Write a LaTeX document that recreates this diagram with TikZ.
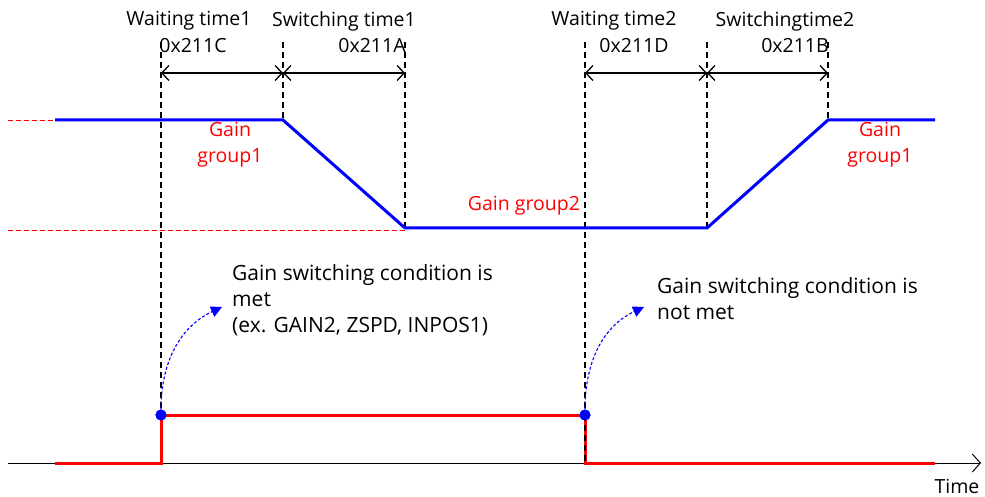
\documentclass[tikz,border=0pt]{standalone}
\usepackage{fontspec}
\setmainfont{Open Sans}
\usetikzlibrary{arrows.meta,positioning}
\definecolor{gainblue}{RGB}{0,0,255}
\definecolor{gainred}{RGB}{255,0,0}

\begin{document}
\begin{tikzpicture}[x=1pt, y=-1pt,
  guide/.style={black, line width=1.6pt, dash pattern=on 6pt off 4pt},
  span/.style={{Straight Barb[length=7pt,width=15pt]}-{Straight Barb[length=7pt,width=15pt]}, line width=1.3pt},
  gain/.style={gainblue, line width=3pt},
  signal/.style={gainred, line width=3pt},
  level/.style={gainred, line width=0.9pt, dash pattern=on 5pt off 3pt},
  lbl/.style={font=\fontsize{19.5}{26}\selectfont, align=center, inner sep=0pt},
  redlbl/.style={lbl, text=gainred},
  note/.style={font=\fontsize{21}{26}\selectfont, align=left, inner sep=0pt, anchor=north west},
  hook/.style={gainblue, line width=1.1pt, dash pattern=on 3pt off 2pt, -{Triangle[length=11pt,width=11pt]}},
  dot/.style={circle, fill=gainblue, inner sep=0pt, minimum size=11pt},
]
  \useasboundingbox (0,0) rectangle (985,497);

  % time marks
  \coordinate (w1) at (161,42);
  \coordinate (s1) at (283,42);
  \coordinate (e1) at (405,42);
  \coordinate (w2) at (585,42);
  \coordinate (s2) at (707,42);
  \coordinate (e2) at (828,42);

  % gain profile
  \coordinate (gstart) at (55,120);
  \coordinate (ghi1) at (283,120);
  \coordinate (glo1) at (405,228);
  \coordinate (glo2) at (707,228);
  \coordinate (ghi2) at (828,120);
  \coordinate (gend) at (935,120);
  \coordinate (hiref) at (8,120);
  \coordinate (loref) at (8,230);
  \coordinate (loend) at (405,230);

  % switching signal
  \coordinate (sstart) at (55,463);
  \coordinate (up) at (161,463);
  \coordinate (down) at (585,463);
  \coordinate (send) at (935,463);
  \coordinate (axstart) at (8,463);
  \coordinate (axend) at (981,463);
  \node[dot] (on) at (161,415) {};
  \node[dot] (off) at (585,415) {};

  \draw[level] (hiref) -- (gstart);
  \draw[level] (loref) -- (loend);

  \draw[guide] (w1) -- (on.center);
  \draw[guide] (s1) -- (ghi1);
  \draw[guide] (e1) -- (glo1);
  \draw[guide] (w2) -- (down);
  \draw[guide] (s2) -- (glo2);
  \draw[guide] (e2) -- (ghi2);

  \draw[span] (161,73) -- (283,73);
  \draw[span] (283,73) -- (405,73);
  \draw[span] (585,73) -- (707,73);
  \draw[span] (707,73) -- (828,73);

  \node[lbl] (wt1) at (189,21) {Waiting time1};
  \node[lbl] (wt1a) at (193,46) {0x211C};
  \node[lbl] (st1) at (344,21) {Switching time1};
  \node[lbl] (st1a) at (372,46) {0x211A};
  \node[lbl] (wt2) at (614,21) {Waiting time2};
  \node[lbl] (wt2a) at (634,46) {0x211D};
  \node[lbl] (st2) at (785,21) {Switchingtime2};
  \node[lbl] (st2a) at (795,46) {0x211B};

  \draw[gain, line join=miter] (gstart) -- (ghi1) -- (glo1) -- (glo2) -- (ghi2) -- (gend);

  \node[redlbl] (g1a) at (230,145) {Gain\\group1};
  \node[redlbl] (g2) at (524,206) {Gain group2};
  \node[redlbl] (g1b) at (880,145) {Gain\\group1};

  \draw[black, line width=1pt, -{Straight Barb[length=8pt,width=18pt]}] (axstart) -- (axend);
  \node[lbl] (time) at (957,486) {Time};

  \draw[signal] (sstart) -- (up) -- (on.center) -- (off.center) -- (down) -- (send);
  \draw[guide] (off.center) -- (down);
  \node[dot] at (on) {};
  \node[dot] at (off) {};

  \node[note] (met) at (232,264) {Gain switching condition is\\met\\(ex. GAIN2, ZSPD, INPOS1)};
  \node[note] (notmet) at (657,277) {Gain switching condition is\\not met};

  \draw[hook] (on.north) to[out=90, in=205] (222,307);
  \draw[hook] (off.north) to[out=90, in=205] (644,307);
\end{tikzpicture}
\end{document}
